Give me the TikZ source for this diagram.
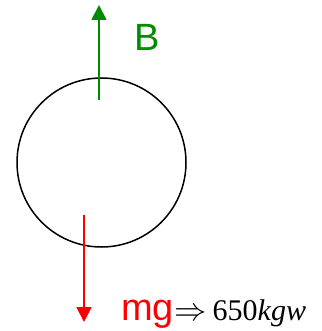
\documentclass[tikz,border=0pt]{standalone}
\usepackage{fontspec}
\setmainfont{Liberation Serif}
\newfontfamily\arialfont{Liberation Sans}
\usetikzlibrary{arrows.meta}
\definecolor{fgreen}{RGB}{0,140,0}
\definecolor{fred}{RGB}{255,0,0}
\begin{document}
\begin{tikzpicture}[x=1pt,y=-1pt,
  force/.style={line width=1.8pt,-{Triangle[length=15pt,width=15pt]}},
  lbl/.style={inner sep=0pt,anchor=base west}]
\useasboundingbox (0,0) rectangle (321,331);
\node[circle,draw,line width=1.5pt,minimum size=169pt,inner sep=0pt] (ball) at (101.5,162.5) {};
\coordinate (bs) at (99,100);
\coordinate (be) at (99,5);
\draw[force,fgreen] (bs) -- (be);
\node[lbl,text=fgreen,font=\arialfont\fontsize{38}{38}\selectfont] (B) at (134,51) {B};
\coordinate (ms) at (84,215);
\coordinate (me) at (84,322);
\draw[force,fred] (ms) -- (me);
\node[lbl,text=fred,font=\arialfont\fontsize{38}{38}\selectfont] (mg) at (121,320) {mg};
\node[lbl,font=\fontsize{30}{30}\selectfont] (val) at (mg.base east) {\scalebox{1.3}{$\Rightarrow$}\hspace{6pt}650\textit{kgw}};
\end{tikzpicture}
\end{document}
